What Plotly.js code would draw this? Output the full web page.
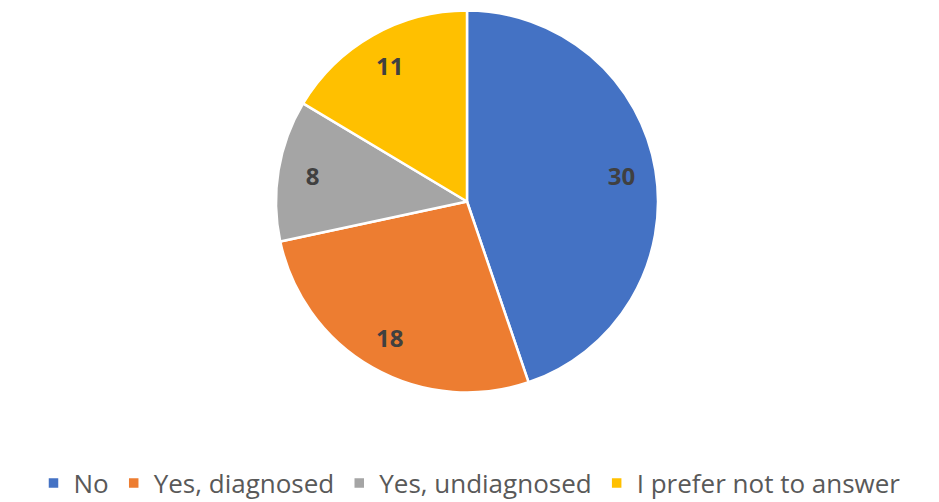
<!DOCTYPE html>
<html>
<head>
<meta charset="utf-8">
<script src="https://cdn.plot.ly/plotly-3.0.1.min.js"></script>
<style>html,body{margin:0;padding:0;background:#fff;}#chart{width:939px;height:502px;}</style>
</head>
<body>
<div id="chart"></div>
<script>
const categories = ["No", "Yes, diagnosed", "Yes, undiagnosed", "I prefer not to answer"];
const values = [30, 18, 8, 11];
const colors = ["#4472C4", "#ED7D31", "#A5A5A5", "#FFC000"];

const pieDomain = {x: [276/939, 658/939], y: [(502-392.5)/502, (502-10.5)/502]};

// Main pie with coloured slices
const slices = {
  type: "pie",
  labels: categories,
  values: values,
  sort: false,
  direction: "clockwise",
  rotation: 0,
  marker: {colors: colors, line: {color: "#ffffff", width: 2.5}},
  textinfo: "none",
  hoverinfo: "label+value",
  domain: pieDomain
};

// Transparent ring overlay that carries the value labels further out
const labelsRing = {
  type: "pie",
  labels: categories,
  values: values,
  sort: false,
  direction: "clockwise",
  rotation: 0,
  hole: 0.64,
  showlegend: false,
  marker: {colors: ["rgba(0,0,0,0)","rgba(0,0,0,0)","rgba(0,0,0,0)","rgba(0,0,0,0)"], line: {width: 0}},
  textinfo: "value",
  textposition: "inside",
  insidetextorientation: "horizontal",
  textfont: {family: "Open Sans, sans-serif", size: 24, color: "#404040", weight: "bold"},
  hoverinfo: "skip",
  domain: pieDomain
};

const layout = {
  width: 939, height: 502,
  margin: {l: 0, r: 0, t: 0, b: 0, autoexpand: false},
  paper_bgcolor: "#ffffff",
  showlegend: true,
  legend: {
    orientation: "h", x: 0.5, xanchor: "center", y: -0.009, yanchor: "bottom",
    font: {family: "Open Sans, sans-serif", size: 26, color: "#595959"},
    itemwidth: 30, traceorder: "normal"
  },
  font: {family: "Open Sans, sans-serif"}
};

Plotly.newPlot("chart", [slices, labelsRing], layout, {displayModeBar: false, staticPlot: true});
</script>
</body>
</html>
